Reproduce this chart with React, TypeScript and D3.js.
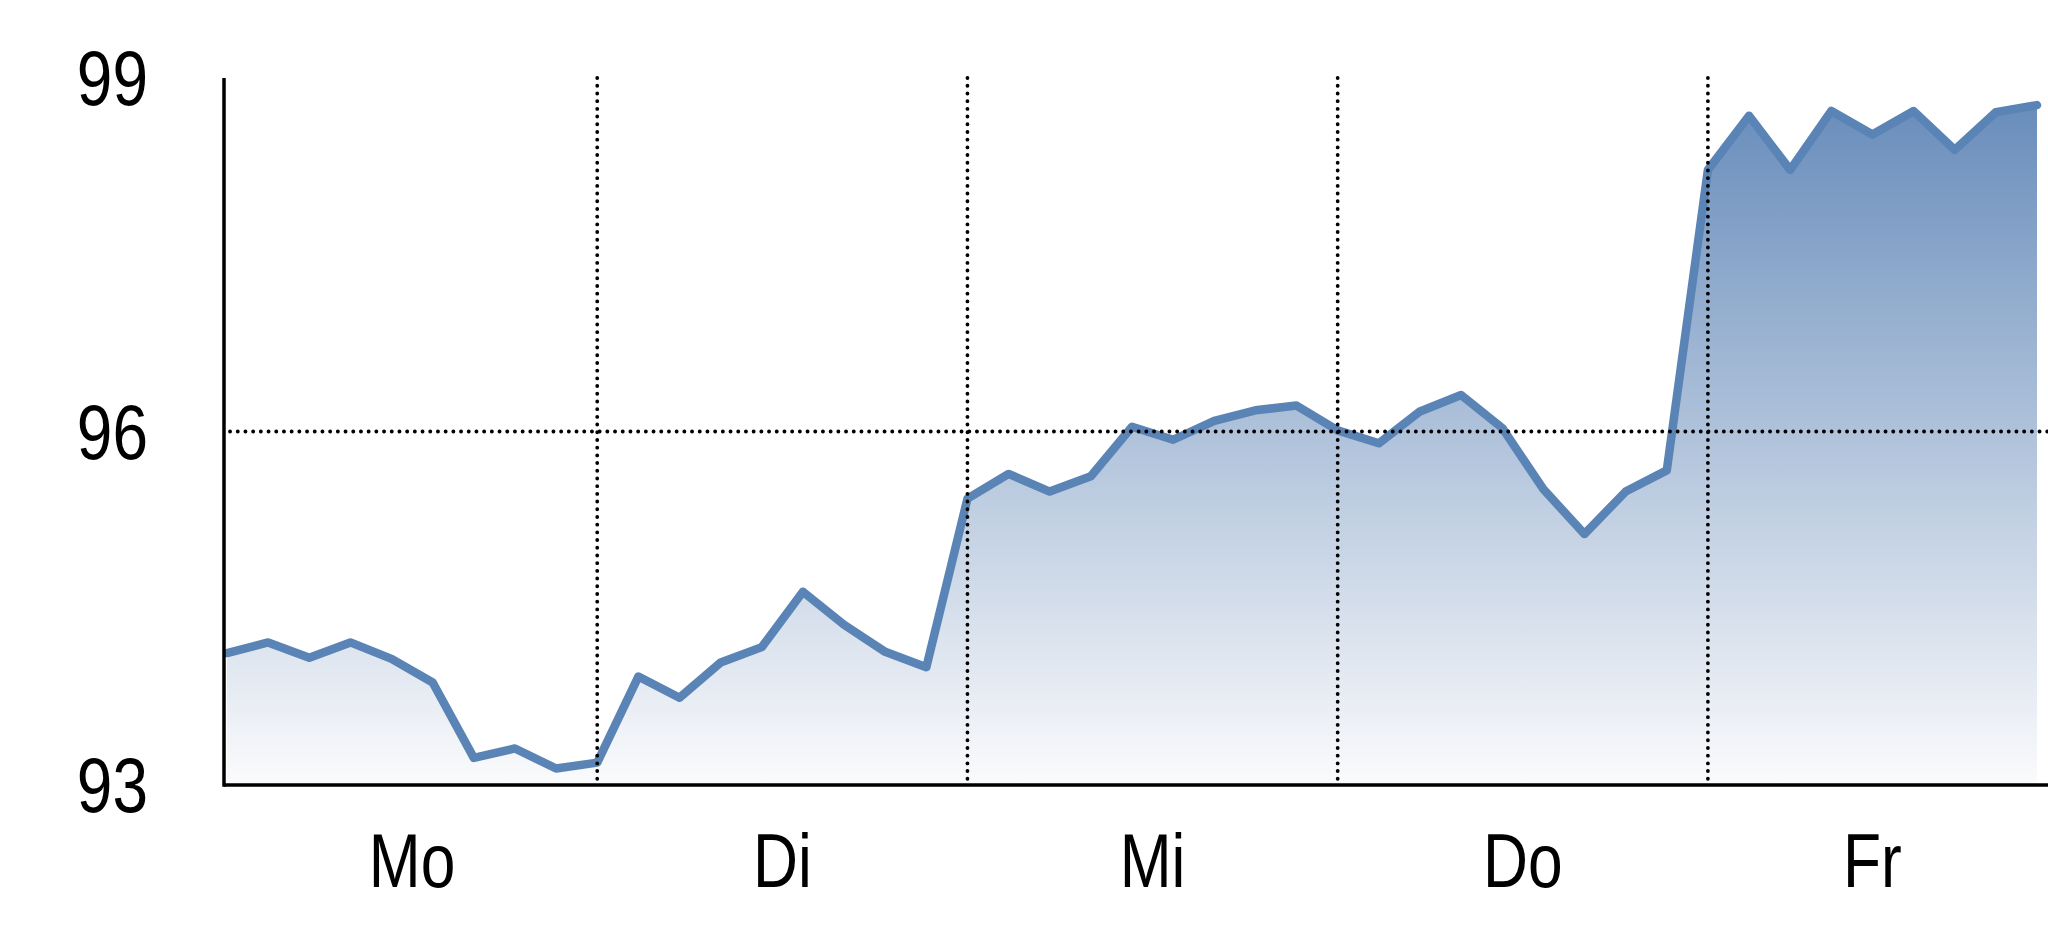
import { useEffect, useRef } from 'react';
import * as d3 from 'd3';

// one reading every ~2.7 hours, Mo..Fr
const values: number[] = [
  94.12, 94.21, 94.08, 94.21, 94.07, 93.87, 93.23, 93.31, 93.14, 93.19,
  93.92, 93.74, 94.04, 94.17, 94.64, 94.36, 94.13, 94.0, 95.43,
  95.64, 95.49, 95.62, 96.04, 95.93, 96.09, 96.18, 96.22, 96.01,
  95.9, 96.17, 96.31, 96.03, 95.51, 95.13, 95.49, 95.67, 98.22,
  98.68, 98.22, 98.72, 98.52, 98.72, 98.39, 98.71, 98.77,
];

const dayLabels = ['Mo', 'Di', 'Mi', 'Do', 'Fr'];
// first and last index of each day in values
const dayStart = [0, 9, 18, 27, 36];
const dayEnd = [9, 18, 27, 36, 44];
const yTicks = [93, 96, 99];

export default function App() {
  const svgRef = useRef<SVGSVGElement>(null);

  useEffect(() => {
    if (!svgRef.current) return;

    const width = 2048;
    const height = 937;
    const left = 224;

    const svg = d3.select(svgRef.current);
    svg.selectAll('*').remove();

    const x = d3
      .scaleLinear()
      .domain([0, values.length - 1])
      .range([227, 2037]);

    const y = d3.scaleLinear().domain([93, 99]).range([785, 78]);

    const grad = svg
      .append('defs')
      .append('linearGradient')
      .attr('id', 'fillGrad')
      .attr('gradientUnits', 'userSpaceOnUse')
      .attr('x1', 0)
      .attr('x2', 0)
      .attr('y1', y(99))
      .attr('y2', y(93));
    grad.append('stop').attr('offset', '0%').attr('stop-color', '#6389b9');
    grad.append('stop').attr('offset', '100%').attr('stop-color', '#fbfbfc');

    const pts = values.map((v, i) => [i, v] as [number, number]);

    const area = d3
      .area<[number, number]>()
      .x((d) => x(d[0]))
      .y0(y(93))
      .y1((d) => y(d[1]));

    svg
      .append('path')
      .datum(pts)
      .attr('d', area)
      .attr('fill', 'url(#fillGrad)');

    const line = d3
      .line<[number, number]>()
      .x((d) => x(d[0]))
      .y((d) => y(d[1]));

    svg
      .append('path')
      .datum(pts)
      .attr('d', line)
      .attr('fill', 'none')
      .attr('stroke', '#5a84b6')
      .attr('stroke-width', 8.5)
      .attr('stroke-linejoin', 'round')
      .attr('stroke-linecap', 'round');

    // dotted grid
    const grid = svg.append('g').attr('stroke', '#000').attr('stroke-width', 3.8)
      .attr('stroke-dasharray', '0.1,7.6').attr('stroke-linecap', 'round');

    grid
      .selectAll('line.v')
      .data(dayStart.slice(1))
      .enter()
      .append('line')
      .attr('x1', (d) => x(d))
      .attr('x2', (d) => x(d))
      .attr('y1', y(99))
      .attr('y2', y(93));

    grid
      .selectAll('line.h')
      .data(yTicks.slice(1, 2))
      .enter()
      .append('line')
      .attr('x1', left + 6)
      .attr('x2', width)
      .attr('y1', (d) => y(d))
      .attr('y2', (d) => y(d));

    // axes
    svg
      .append('line')
      .attr('x1', left)
      .attr('x2', left)
      .attr('y1', y(99))
      .attr('y2', y(93) + 1.75)
      .attr('stroke', '#000')
      .attr('stroke-width', 3.5);

    svg
      .append('line')
      .attr('x1', left)
      .attr('x2', width)
      .attr('y1', y(93))
      .attr('y2', y(93))
      .attr('stroke', '#000')
      .attr('stroke-width', 3.5);

    // narrow sans: no condensed face installed, so squeeze horizontally
    const font = '"Liberation Sans", Arial, sans-serif';
    const squeeze = 0.82;

    svg
      .append('g')
      .selectAll('text')
      .data(yTicks)
      .enter()
      .append('text')
      .attr('transform', (d) => `translate(148, ${y(d) + 27}) scale(${squeeze}, 1)`)
      .attr('text-anchor', 'end')
      .attr('font-family', font)
      .attr('font-size', 78)
      .attr('fill', '#000')
      .text((d) => d);

    svg
      .append('g')
      .selectAll('text')
      .data(dayLabels)
      .enter()
      .append('text')
      .attr(
        'transform',
        (_, i) => `translate(${x((dayStart[i] + dayEnd[i]) / 2)}, 887) scale(${squeeze}, 1)`
      )
      .attr('text-anchor', 'middle')
      .attr('font-family', font)
      .attr('font-size', 76)
      .attr('fill', '#000')
      .text((d) => d);

    svg.attr('width', width).attr('height', height);
  }, []);

  return (
    <svg
      ref={svgRef}
      width={2048}
      height={937}
      style={{ position: 'fixed', left: 0, top: 0, background: '#fff' }}
    ></svg>
  );
}
